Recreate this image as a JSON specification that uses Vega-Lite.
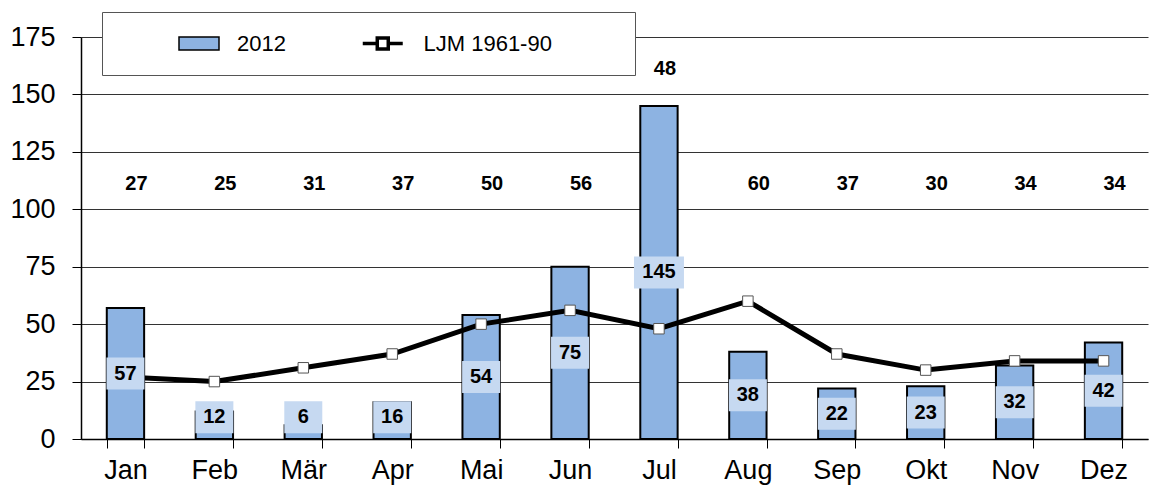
{
  "$schema": "https://vega.github.io/schema/vega-lite/v6.json",
  "width": 1067,
  "height": 402,
  "autosize": "none",
  "padding": {"left": 81, "top": 37, "right": 14, "bottom": 47},
  "background": "white",
  "config": {"view": {"stroke": null}, "font": "Liberation Sans"},
  "data": {
    "values": [
      {"month": "Jan", "p2012": 57, "ljm": 27},
      {"month": "Feb", "p2012": 12, "ljm": 25},
      {"month": "Mär", "p2012": 6, "ljm": 31},
      {"month": "Apr", "p2012": 16, "ljm": 37},
      {"month": "Mai", "p2012": 54, "ljm": 50},
      {"month": "Jun", "p2012": 75, "ljm": 56},
      {"month": "Jul", "p2012": 145, "ljm": 48},
      {"month": "Aug", "p2012": 38, "ljm": 60},
      {"month": "Sep", "p2012": 22, "ljm": 37},
      {"month": "Okt", "p2012": 23, "ljm": 30},
      {"month": "Nov", "p2012": 32, "ljm": 34},
      {"month": "Dez", "p2012": 42, "ljm": 34}
    ]
  },
  "encoding": {
    "x": {
      "field": "month",
      "type": "ordinal",
      "sort": null,
      "scale": {"paddingInner": 0.58, "paddingOuter": 0.29},
      "axis": {
        "title": null,
        "labelAngle": 0,
        "labelFontSize": 27,
        "labelColor": "black",
        "labelPadding": 9,
        "domainColor": "black",
        "domainWidth": 1.5,
        "tickColor": "black",
        "tickSize": 9,
        "tickBand": "extent",
        "grid": false
      }
    }
  },
  "layer": [
    {
      "mark": {"type": "bar", "stroke": "black", "strokeWidth": 2},
      "encoding": {
        "y": {
          "field": "p2012",
          "type": "quantitative",
          "scale": {"domain": [0, 175], "nice": false},
          "axis": {
            "title": null,
            "values": [0, 25, 50, 75, 100, 125, 150, 175],
            "labelFontSize": 27,
            "labelColor": "black",
            "labelPadding": 17,
            "tickSize": 9,
            "tickColor": "black",
            "domainColor": "black",
            "domainWidth": 1.5,
            "gridColor": "#333333",
            "gridWidth": 1
          }
        },
        "fill": {
          "datum": "2012",
          "type": "nominal",
          "scale": {"range": ["#8DB3E2"]},
          "legend": {
            "orient": "none",
            "legendX": 81.5,
            "legendY": -25,
            "zindex": 2,
            "direction": "horizontal",
            "title": null,
            "padding": 15.5,
            "clipHeight": 32,
            "labelFontSize": 22,
            "labelColor": "black",
            "labelOffset": 17,
            "labelLimit": 300,
            "symbolType": "M-1,-0.33H1V0.33H-1Z",
            "symbolSize": 1600,
            "symbolStrokeColor": "black",
            "symbolStrokeWidth": 1.5,
            "symbolOpacity": 1
          }
        }
      }
    },
    {
      "mark": {"type": "line", "strokeWidth": 5},
      "encoding": {
        "y": {"field": "ljm", "type": "quantitative", "axis": {"title": null}},
        "stroke": {
          "datum": "LJM 1961-90",
          "type": "nominal",
          "scale": {"range": ["#000000"]},
          "legend": {
            "orient": "none",
            "legendX": 21,
            "legendY": -25,
            "zindex": 1,
            "direction": "horizontal",
            "title": null,
            "fillColor": "white",
            "strokeColor": "#555555",
            "padding": 15.5,
            "clipHeight": 32,
            "labelFontSize": 22,
            "labelColor": "black",
            "labelOffset": 17,
            "labelLimit": 400,
            "labelExpr": "datum.label + '\u00a0\u00a0\u00a0\u00a0\u00a0\u00a0\u00a0\u00a0\u00a0\u00a0\u00a0\u200b'",
            "symbolType": "M0.7058,0H0.8075M0.8845,0H0.986M0.8075,-0.0385H0.8845V0.0385H0.8075Z",
            "symbolSize": 81510,
            "symbolFillColor": "white",
            "symbolStrokeColor": "black",
            "symbolStrokeWidth": 3.5,
            "symbolOpacity": 1
          }
        }
      }
    },
    {
      "mark": {"type": "point", "shape": "square", "filled": true, "fill": "white", "stroke": "#555555", "strokeWidth": 1, "size": 110, "opacity": 1},
      "encoding": {
        "y": {"field": "ljm", "type": "quantitative", "axis": {"title": null}}
      }
    },
    {
      "transform": [{"calculate": "max(datum.p2012 / 2, 9.5)", "as": "barLabY"}],
      "mark": {"type": "point", "filled": true, "fill": "#C6D9F1", "strokeWidth": 0, "size": 1024, "opacity": 1},
      "encoding": {
        "y": {"field": "barLabY", "type": "quantitative", "axis": {"title": null}},
        "shape": {
          "condition": {"test": "datum.month === 'Jul'", "value": "M-1.5625,-1H1.5625V1H-1.5625Z"},
          "value": "M-1.1875,-1H1.1875V1H-1.1875Z"
        }
      }
    },
    {
      "transform": [{"calculate": "max(datum.p2012 / 2, 9.5)", "as": "barLabY"}],
      "mark": {"type": "text", "fontSize": 20, "fontWeight": "bold", "color": "black", "baseline": "middle"},
      "encoding": {
        "y": {"field": "barLabY", "type": "quantitative", "axis": {"title": null}},
        "text": {"field": "p2012", "type": "quantitative"}
      }
    },
    {
      "transform": [{"filter": "datum.month !== 'Jul'"}],
      "mark": {"type": "text", "fontSize": 20, "fontWeight": "bold", "color": "black", "baseline": "middle", "dx": 11},
      "encoding": {
        "y": {"datum": 111, "type": "quantitative"},
        "text": {"field": "ljm", "type": "quantitative"}
      }
    },
    {
      "transform": [{"filter": "datum.month === 'Jul'"}],
      "mark": {"type": "text", "fontSize": 20, "fontWeight": "bold", "color": "black", "baseline": "middle", "dx": 6},
      "encoding": {
        "y": {"datum": 161, "type": "quantitative"},
        "text": {"field": "ljm", "type": "quantitative"}
      }
    }
  ]
}
